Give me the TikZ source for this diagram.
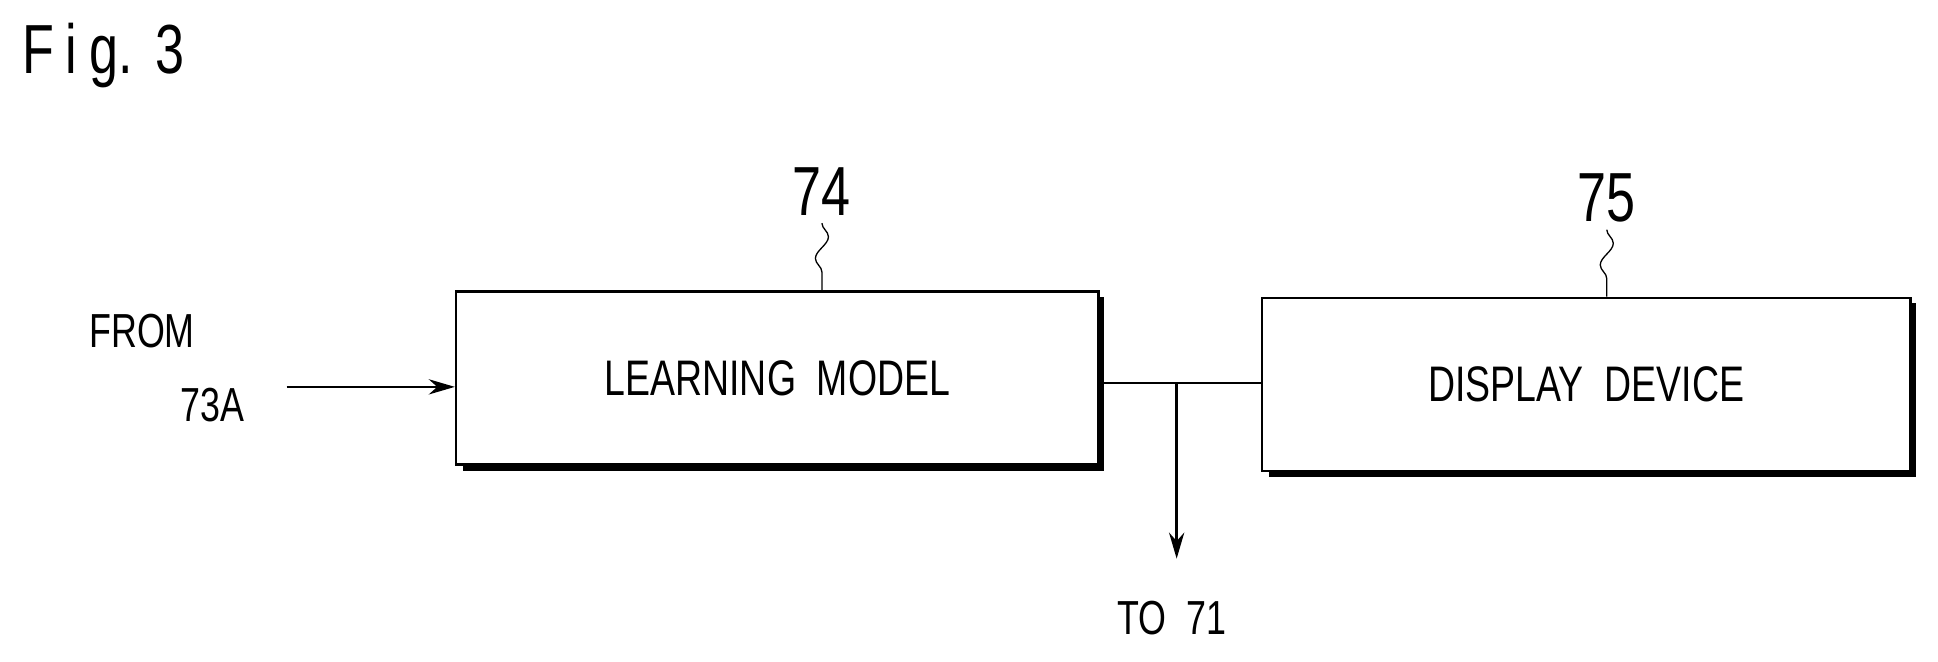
\documentclass[tikz,border=0pt]{standalone}
\usepackage{fontspec}
\setmainfont{Liberation Sans}[FakeStretch=0.75]
\usetikzlibrary{arrows.meta,decorations.pathmorphing}
\begin{document}
\begin{tikzpicture}[x=0.02cm,y=-0.02cm,
  box/.style={draw,line width=1.2pt,minimum width=10.4cm,minimum height=2.8cm,font=\fontsize{23}{27}\selectfont},
  lbl/.style={font=\fontsize{22}{26}\selectfont},
  num/.style={font=\fontsize{32}{36}\selectfont},
  arr/.style={line width=1.2pt,-{Stealth[length=12pt,width=7pt]}},
  squig/.style={line width=0.6pt,decorate,decoration={snake,amplitude=3pt,segment length=20pt}}]
\useasboundingbox (0,0) rectangle (1568,535);
\node[num,anchor=west] (fig) at (12,45) {F\,i\,g.\,\,3};
% shadows
\fill (375,240) rectangle (893,381);
\fill (1027,245) rectangle (1550,386);
\node[box,fill=white,anchor=north west] (lm) at (368,235) {LEARNING\ \ MODEL};
\node[box,fill=white,anchor=north west,minimum width=10.5cm] (dd) at (1020,240) {DISPLAY\ \ DEVICE};
\node[num] (n74) at (665,155) {74};
\node[num] (n75) at (1300,160) {75};
\draw[squig] (n74.south) -- (lm.north -| n74.south);
\draw[squig] (n75.south) -- (dd.north -| n75.south);
\node[lbl,anchor=west] (from) at (66,268) {FROM};
\node[lbl,anchor=west] (f73) at (140,328) {73A};
\coordinate (src) at (232,313);
\draw[arr] (src) -- (src -| lm.west);
\coordinate (j) at (952,310);
\coordinate (tip) at (952,452);
\draw[line width=1.2pt] (lm.east |- j) -- (dd.west |- j);
\node[lbl] (to71) at (948,500) {TO\ \ 71};
\draw[arr] (j) -- (tip);
\end{tikzpicture}
\end{document}
